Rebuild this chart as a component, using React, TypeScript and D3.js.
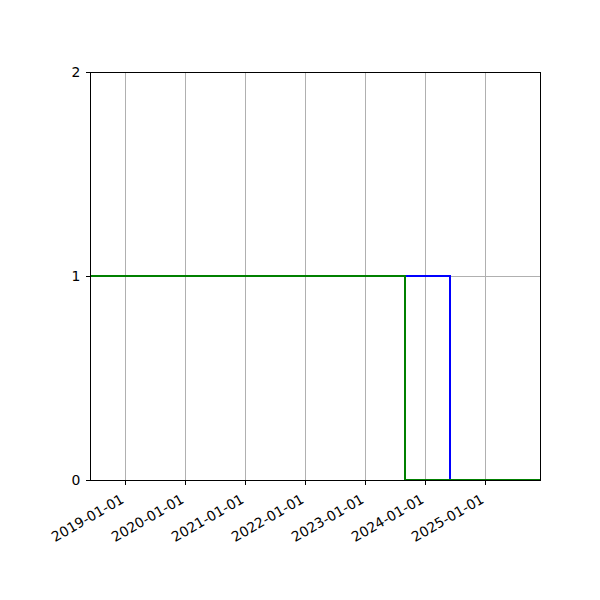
import { useEffect, useRef } from 'react';
import * as d3 from 'd3';

// step series: value holds from each date until the next one
const blueDates = ['2018-06-01', '2024-06-01', '2025-12-01'];
const blueValues = [1, 0, 0];
const greenDates = ['2018-06-01', '2023-09-01', '2025-12-01'];
const greenValues = [1, 0, 0];

const xDomain = ['2018-06-01', '2025-12-01'];
const xTickLabels = ['2019-01-01', '2020-01-01', '2021-01-01', '2022-01-01', '2023-01-01', '2024-01-01', '2025-01-01'];
const yTicks = [0, 1, 2];

const App = () => {
  const svgRef = useRef<SVGSVGElement>(null);

  useEffect(() => {
    if (!svgRef.current) return;
    d3.select(svgRef.current).selectAll('*').remove();

    const width = 600;
    const height = 600;
    const margin = { top: 72, right: 60, bottom: 120, left: 90 };
    const fontSize = 13.9;
    const parse = d3.utcParse('%Y-%m-%d');

    const svg = d3.select(svgRef.current)
      .attr('width', width)
      .attr('height', height)
      .style('font-family', '"DejaVu Sans", sans-serif');

    svg.append('rect').attr('width', width).attr('height', height).attr('fill', 'white');

    const x = d3.scaleUtc()
      .domain(xDomain.map(d => parse(d) as Date))
      .range([margin.left, width - margin.right]);
    const y = d3.scaleLinear()
      .domain([0, 2])
      .range([height - margin.bottom, margin.top]);

    const tickDates = xTickLabels.map(d => parse(d) as Date);

    // grid
    const grid = svg.append('g').attr('stroke', '#b0b0b0').attr('stroke-width', 1).attr('shape-rendering', 'crispEdges');
    grid.selectAll('.vgrid')
      .data(tickDates)
      .join('line')
      .attr('x1', d => Math.round(x(d)) + 0.5).attr('x2', d => Math.round(x(d)) + 0.5)
      .attr('y1', margin.top).attr('y2', height - margin.bottom);
    grid.selectAll('.hgrid')
      .data(yTicks)
      .join('line')
      .attr('x1', margin.left).attr('x2', width - margin.right)
      .attr('y1', d => y(d)).attr('y2', d => y(d));

    // lines
    const line = d3.line<[Date, number]>()
      .x(d => x(d[0]))
      .y(d => y(d[1]))
      .curve(d3.curveStepAfter);

    const series = [
      { dates: blueDates, values: blueValues, color: 'blue' },
      { dates: greenDates, values: greenValues, color: 'green' },
    ];
    series.forEach(s => {
      const pts = s.dates.map((d, i) => [parse(d) as Date, s.values[i]] as [Date, number]);
      svg.append('path')
        .attr('fill', 'none')
        .attr('stroke', s.color)
        .attr('stroke-width', 2)
        .attr('d', line(pts));
    });

    // frame
    svg.append('rect')
      .attr('x', margin.left)
      .attr('y', margin.top)
      .attr('width', width - margin.left - margin.right)
      .attr('height', height - margin.top - margin.bottom)
      .attr('fill', 'none')
      .attr('stroke', 'black')
      .attr('stroke-width', 1)
      .attr('shape-rendering', 'crispEdges');

    // x axis ticks and rotated labels
    const xt = svg.append('g').selectAll('g')
      .data(tickDates)
      .join('g')
      .attr('transform', d => `translate(${Math.round(x(d)) + 0.5},${height - margin.bottom})`);
    xt.append('line').attr('y2', 4.5).attr('stroke', 'black').attr('stroke-width', 1).attr('shape-rendering', 'crispEdges');
    xt.append('text')
      .attr('transform', 'translate(-0.5,22) rotate(-30)')
      .attr('text-anchor', 'end')
      .attr('font-size', fontSize)
      .attr('fill', 'black')
      .text((_, i) => xTickLabels[i]);

    // y axis
    const yt = svg.append('g').selectAll('g')
      .data(yTicks)
      .join('g')
      .attr('transform', d => `translate(${margin.left},${y(d)})`);
    yt.append('line').attr('x2', -4.5).attr('stroke', 'black').attr('stroke-width', 1).attr('shape-rendering', 'crispEdges');
    yt.append('text')
      .attr('x', -9.7)
      .attr('dy', '0.36em')
      .attr('text-anchor', 'end')
      .attr('font-size', fontSize)
      .attr('fill', 'black')
      .text(d => String(d));
  }, []);

  return (
    <div style={{ position: 'absolute', left: 0, top: 0 }}>
      <svg ref={svgRef} style={{ display: 'block' }}></svg>
    </div>
  );
};

export default App;
